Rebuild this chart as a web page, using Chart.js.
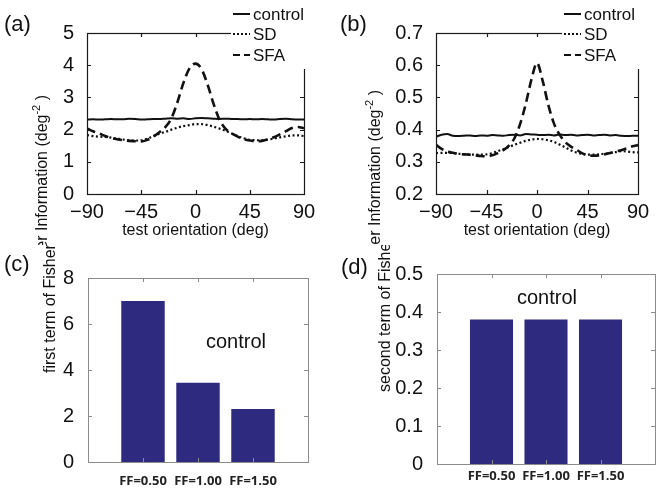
<!DOCTYPE html>
<html>
<head>
<meta charset="utf-8">
<script src="https://cdn.jsdelivr.net/npm/chart.js@4.4.1/dist/chart.umd.min.js"></script>
<style>
  body { margin: 0; background: #fff; }
  #fig { position: relative; width: 662px; height: 490px; }
  #fig canvas { position: absolute; }
</style>
</head>
<body>
<div id="fig">
  <canvas id="chartA" width="331" height="245" style="left:0;top:0"></canvas>
  <canvas id="chartB" width="331" height="245" style="left:331px;top:0"></canvas>
  <canvas id="chartC" width="331" height="245" style="left:0;top:245px"></canvas>
  <canvas id="chartD" width="331" height="245" style="left:331px;top:245px"></canvas>
</div>
<script>
// orientacion de prueba (deg)
const orientacion = [-90, -85, -80, -75, -70, -65, -60, -55, -50, -45, -40, -35, -30, -25, -20, -15, -10, -5, 0,
                     5, 10, 15, 20, 25, 30, 35, 40, 45, 50, 55, 60, 65, 70, 75, 80, 85, 90];

// panel (a)
const controlA = [2.31, 2.32, 2.31, 2.32, 2.33, 2.32, 2.32, 2.34, 2.33, 2.31, 2.32, 2.33, 2.33, 2.34, 2.35, 2.34, 2.35, 2.33, 2.35,
                  2.36, 2.35, 2.34, 2.33, 2.34, 2.33, 2.33, 2.32, 2.33, 2.32, 2.33, 2.32, 2.31, 2.33, 2.34, 2.32, 2.31, 2.31];
const sdA = [1.83, 1.80, 1.78, 1.77, 1.75, 1.72, 1.69, 1.67, 1.66, 1.67, 1.72, 1.80, 1.87, 1.93, 2.00, 2.06, 2.11, 2.14, 2.17,
             2.17, 2.14, 2.09, 2.03, 1.96, 1.88, 1.80, 1.73, 1.68, 1.67, 1.67, 1.69, 1.72, 1.76, 1.79, 1.82, 1.82, 1.80];
const sfaA = [2.04, 1.95, 1.88, 1.80, 1.74, 1.70, 1.67, 1.65, 1.64, 1.63, 1.68, 1.78, 1.92, 2.08, 2.35, 2.85, 3.45, 3.90, 4.05,
              3.88, 3.40, 2.80, 2.30, 2.02, 1.88, 1.78, 1.70, 1.66, 1.64, 1.65, 1.70, 1.76, 1.85, 1.95, 2.05, 2.08, 2.04];

// panel (b)
const controlB = [0.378, 0.384, 0.386, 0.381, 0.380, 0.381, 0.382, 0.380, 0.382, 0.381, 0.383, 0.382, 0.381, 0.383, 0.384, 0.382, 0.386, 0.385, 0.384,
                  0.383, 0.384, 0.382, 0.385, 0.383, 0.384, 0.382, 0.383, 0.384, 0.382, 0.383, 0.384, 0.382, 0.383, 0.381, 0.380, 0.381, 0.381];
const sdB = [0.327, 0.328, 0.328, 0.327, 0.325, 0.324, 0.323, 0.322, 0.322, 0.323, 0.327, 0.333, 0.339, 0.346, 0.353, 0.359, 0.365, 0.369, 0.371,
             0.370, 0.367, 0.362, 0.354, 0.345, 0.336, 0.329, 0.325, 0.322, 0.322, 0.323, 0.325, 0.327, 0.330, 0.333, 0.332, 0.330, 0.329];
const sfaB = [0.353, 0.340, 0.332, 0.328, 0.325, 0.323, 0.322, 0.320, 0.318, 0.317, 0.320, 0.327, 0.336, 0.350, 0.374, 0.418, 0.480, 0.555, 0.607,
              0.552, 0.478, 0.420, 0.385, 0.362, 0.348, 0.338, 0.327, 0.321, 0.319, 0.320, 0.323, 0.327, 0.332, 0.336, 0.342, 0.348, 0.352];

// paneles (c) y (d)
const posFF = [1, 2, 3];
const etiquetasFF = ['FF=0.50', 'FF=1.00', 'FF=1.50'];
const primerTermino = [7.0, 3.45, 2.3];
const segundoTermino = [0.38, 0.38, 0.38];

const ticksA = [0, 1, 2, 3, 4, 5];
const ticksB = [0.2, 0.3, 0.4, 0.5, 0.6, 0.7];
const ticksC = [0, 2, 4, 6, 8];
const ticksD = [0, 0.1, 0.2, 0.3, 0.4, 0.5];

const FAM = '"Liberation Sans", Arial, Helvetica, sans-serif';
Chart.defaults.font.family = FAM;
Chart.defaults.color = '#111';

const pares = (xs, ys) => xs.map((x, i) => ({ x: x, y: ys[i] }));
const menos = v => (v < 0 ? '\u2212' + Math.abs(v) : String(v));

// dibuja marco, ticks interiores, letra, titulo Y, leyenda y nota
function panelPlugin(cfg) {
    return {
        id: 'panel',
        afterDraw(chart) {
            const ctx = chart.ctx;
            const a = chart.chartArea;
            const sx = chart.scales.x, sy = chart.scales.y;
            ctx.save();

            ctx.strokeStyle = cfg.frame;
            ctx.lineWidth = cfg.frameWidth;
            ctx.strokeRect(Math.round(a.left) + 0.5, Math.round(a.top) + 0.5,
                Math.round(a.right - a.left), Math.round(a.bottom - a.top));

            ctx.beginPath();
            sy.ticks.forEach(t => {
                if (t.value === sy.min || t.value === sy.max) return;
                const py = Math.round(sy.getPixelForValue(t.value)) + 0.5;
                ctx.moveTo(a.left, py); ctx.lineTo(a.left + 4, py);
                ctx.moveTo(a.right, py); ctx.lineTo(a.right - 4, py);
            });
            sx.ticks.forEach(t => {
                if (t.value === sx.min || t.value === sx.max) return;
                const px = Math.round(sx.getPixelForValue(t.value)) + 0.5;
                ctx.moveTo(px, a.bottom); ctx.lineTo(px, a.bottom - 4);
                ctx.moveTo(px, a.top); ctx.lineTo(px, a.top + 4);
            });
            ctx.stroke();

            // leyenda
            if (cfg.legend) {
                ctx.fillStyle = '#fff';
                ctx.fillRect(231, 0, 100, 69);
                ctx.font = '17px ' + FAM;
                ctx.textBaseline = 'middle';
                ctx.textAlign = 'left';
                cfg.legend.forEach(it => {
                    ctx.strokeStyle = '#111';
                    ctx.lineWidth = it.w;
                    ctx.setLineDash(it.dash);
                    ctx.beginPath();
                    ctx.moveTo(233, it.y); ctx.lineTo(250, it.y);
                    ctx.stroke();
                    ctx.setLineDash([]);
                    ctx.fillStyle = '#111';
                    ctx.fillText(it.text, 253, it.y + 1);
                });
            }

            // nota "control"
            if (cfg.note) {
                ctx.fillStyle = '#111';
                ctx.font = '20px ' + FAM;
                ctx.textAlign = 'center';
                ctx.textBaseline = 'middle';
                ctx.fillText(cfg.note.text, cfg.note.x, cfg.note.y);
            }

            // letra del panel
            ctx.fillStyle = '#111';
            ctx.font = '22px ' + FAM;
            ctx.textAlign = 'left';
            ctx.textBaseline = 'middle';
            ctx.fillText(cfg.letter.text, cfg.letter.x, cfg.letter.y);

            // titulo del eje Y (girado)
            const t = cfg.yTitle;
            const partes = [[t.text, 16, 0], [t.sup || '', 11, -6], [t.tail || '', 16, 0]];
            let total = 0;
            partes.forEach(p => { ctx.font = p[1] + 'px ' + FAM; p.push(ctx.measureText(p[0]).width); total += p[3]; });
            const inicio = t.top != null ? t.top + total : t.bottom;
            ctx.translate(t.x, inicio);
            ctx.rotate(-Math.PI / 2);
            let px = 0;
            partes.forEach(p => {
                ctx.font = p[1] + 'px ' + FAM;
                ctx.fillText(p[0], px, p[2]);
                px += p[3];
            });
            ctx.restore();
        }
    };
}

function grafLineas(id, series, ticksY, fmtY, yWidth, padRight, cfg) {
    new Chart(document.getElementById(id), {
        type: 'line',
        data: {
            datasets: [
                { label: 'control', data: pares(orientacion, series[0]), borderColor: '#111', borderWidth: 2 },
                { label: 'SD', data: pares(orientacion, series[1]), borderColor: '#111', borderWidth: 2.2, borderDash: [2, 2.5] },
                { label: 'SFA', data: pares(orientacion, series[2]), borderColor: '#111', borderWidth: 2.6, borderDash: [9, 5] }
            ]
        },
        options: {
            responsive: false,
            animation: false,
            devicePixelRatio: 1,
            elements: { point: { radius: 0 }, line: { cubicInterpolationMode: 'monotone', fill: false } },
            layout: { padding: { left: 0, top: 33, right: padRight, bottom: 0 } },
            plugins: { legend: { display: false }, tooltip: { enabled: false } },
            scales: {
                x: {
                    type: 'linear', min: -90, max: 90,
                    grid: { display: false }, border: { display: false },
                    ticks: { stepSize: 45, padding: -2, font: { size: 20 }, callback: v => menos(v), maxRotation: 0 },
                    title: { display: true, text: 'test orientation (deg)', font: { size: 16 }, padding: { top: 0, bottom: 5 } },
                    afterFit: s => { s.height = 51; }
                },
                y: {
                    min: ticksY[0], max: ticksY[ticksY.length - 1],
                    grid: { display: false }, border: { display: false },
                    afterBuildTicks: s => { s.ticks = ticksY.map(v => ({ value: v })); },
                    ticks: { padding: 5, font: { size: 20 }, callback: fmtY },
                    afterFit: s => { s.width = yWidth; }
                }
            }
        },
        plugins: [panelPlugin(cfg)]
    });
}

function grafBarras(id, valores, ticksY, fmtY, yWidth, padTop, padRight, xHeight, tickPad, cfg) {
    new Chart(document.getElementById(id), {
        type: 'bar',
        data: {
            datasets: [{ data: pares(posFF, valores), backgroundColor: '#2e2a80', borderWidth: 0,
                barPercentage: 0.79, categoryPercentage: 1 }]
        },
        options: {
            responsive: false,
            animation: false,
            devicePixelRatio: 1,
            layout: { padding: { left: 0, top: padTop, right: padRight, bottom: 0 } },
            plugins: { legend: { display: false }, tooltip: { enabled: false } },
            scales: {
                x: {
                    type: 'linear', min: 0, max: 4, offset: false,
                    grid: { display: false }, border: { display: false },
                    afterBuildTicks: s => { s.ticks = [0].concat(posFF, [4]).map(v => ({ value: v })); },
                    ticks: { padding: tickPad, font: { size: 13, weight: 'bold', family: '"Open Sans", "Noto Sans", sans-serif' },
                        color: '#222', maxRotation: 0, autoSkip: false,
                        callback: v => etiquetasFF[posFF.indexOf(v)] || '' },
                    afterFit: s => { s.height = xHeight; }
                },
                y: {
                    min: ticksY[0], max: ticksY[ticksY.length - 1],
                    grid: { display: false }, border: { display: false },
                    afterBuildTicks: s => { s.ticks = ticksY.map(v => ({ value: v })); },
                    ticks: { padding: 6, font: { size: 20 }, callback: fmtY },
                    afterFit: s => { s.width = yWidth; }
                }
            }
        },
        plugins: [panelPlugin(cfg)]
    });
}

const leyenda = [
    { text: 'control', y: 14, w: 2, dash: [] },
    { text: 'SD', y: 34, w: 2, dash: [2, 2] },
    { text: 'SFA', y: 55, w: 2.2, dash: [7, 4] }
];

grafLineas('chartA', [controlA, sdA, sfaA], ticksA, v => String(v), 87, 27, {
    frame: '#1a1a1a', frameWidth: 1.2, legend: leyenda,
    letter: { text: '(a)', x: 4, y: 25 },
    yTitle: { text: 'Fisher Information (deg', sup: '-2', tail: ' )', x: 43, top: 95 }
});

grafLineas('chartB', [controlB, sdB, sfaB], ticksB, v => Number(v).toFixed(1), 105, 24, {
    frame: '#1a1a1a', frameWidth: 1.2, legend: leyenda,
    letter: { text: '(b)', x: 9, y: 25 },
    yTitle: { text: 'Fisher Information (deg', sup: '-2', tail: ' )', x: 45, top: 90 }
});

grafBarras('chartC', primerTermino, ticksC, v => String(v), 88, 33, 23, 28, 3, {
    frame: '#8c8c8c', frameWidth: 1,
    note: { text: 'control', x: 236, y: 97 },
    letter: { text: '(c)', x: 4, y: 20 },
    yTitle: { text: 'first term of Fisher Information', x: 51, bottom: 128 }
});

grafBarras('chartD', segundoTermino, ticksD, v => (v === 0 ? '0' : Number(v).toFixed(1)), 106, 29, 7, 26, -4, {
    frame: '#8c8c8c', frameWidth: 1,
    note: { text: 'control', x: 216, y: 53 },
    letter: { text: '(d)', x: 10, y: 23 },
    yTitle: { text: 'second term of Fisher Information', x: 55, bottom: 147 }
});
</script>
</body>
</html>
